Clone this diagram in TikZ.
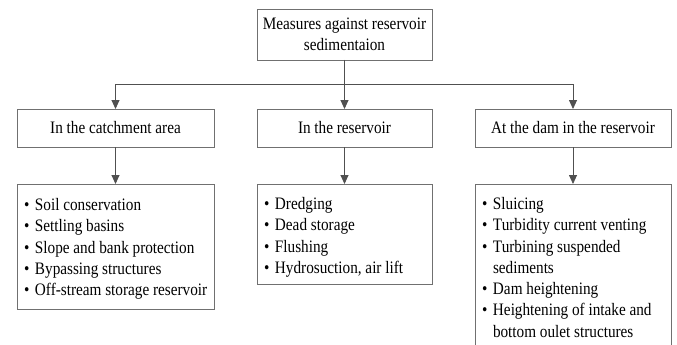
\documentclass[tikz,border=0pt]{standalone}
\usepackage{fontspec}
\setmainfont{Liberation Serif}[FakeStretch=0.87]
\usetikzlibrary{arrows.meta}
\definecolor{boxgray}{HTML}{707070}
\definecolor{arrgray}{HTML}{505050}
\newcommand{\dfont}{\fontsize{17.5}{21.3}\selectfont}
\newcommand{\blt}{\makebox[11pt][l]{•}}
\newcommand{\ind}{\hspace*{11pt}}
\newcommand{\listtext}[4]{\parbox[c][#1][t]{#2}{\dfont\raggedright\leftskip=7pt\relax\vspace*{#3}\strut #4}}
\begin{document}
\begin{tikzpicture}[x=1pt,y=-1pt,
  box/.style={draw=boxgray, line width=0.9pt, rectangle, font=\dfont, inner sep=0pt, outer sep=0pt},
  conn/.style={draw=arrgray, line width=0.9pt, -{Triangle[length=9pt,width=8pt]}}]
\clip (0,0) rectangle (677,345);
\node[box, anchor=north west, minimum width=175pt, minimum height=51pt, align=center] (top) at (257,9) {Measures against reservoir\\sedimentaion};
\node[box, anchor=north west, minimum width=197pt, minimum height=38pt] (catch) at (17,109) {In the catchment area};
\node[box, anchor=north west, minimum width=175pt, minimum height=38pt] (res) at (257,109) {In the reservoir};
\node[box, anchor=north west, minimum width=196pt, minimum height=38pt] (dam) at (475,109) {At the dam in the reservoir};
\node[box, anchor=north west] (catchlist) at (17,184) {\listtext{125pt}{197pt}{11.5pt}{\blt Soil conservation\\
\blt Settling basins\\
\blt Slope and bank protection\\
\blt Bypassing structures\\
\blt Off-stream storage reservoir}};
\node[box, anchor=north west] (reslist) at (257,184) {\listtext{100pt}{175pt}{10.5pt}{\blt Dredging\\
\blt Dead storage\\
\blt Flushing\\
\blt Hydrosuction, air lift}};
\node[box, anchor=north west] (damlist) at (475,184) {\listtext{175pt}{196pt}{10.5pt}{\blt Sluicing\\
\blt Turbidity current venting\\
\blt Turbining suspended\\
\ind sediments\\
\blt Dam heightening\\
\blt Heightening of intake and\\
\ind bottom oulet structures}};
\path (top.south) ++(0,24) coordinate (split);
\draw[conn] (top.south) -- (res.north);
\draw[conn] (split) -| (catch.north);
\draw[conn] (split) -| (dam.north);
\draw[conn] (catch.south) -- (catchlist.north);
\draw[conn] (res.south) -- (reslist.north);
\draw[conn] (dam.south) -- (damlist.north);
\end{tikzpicture}
\end{document}
